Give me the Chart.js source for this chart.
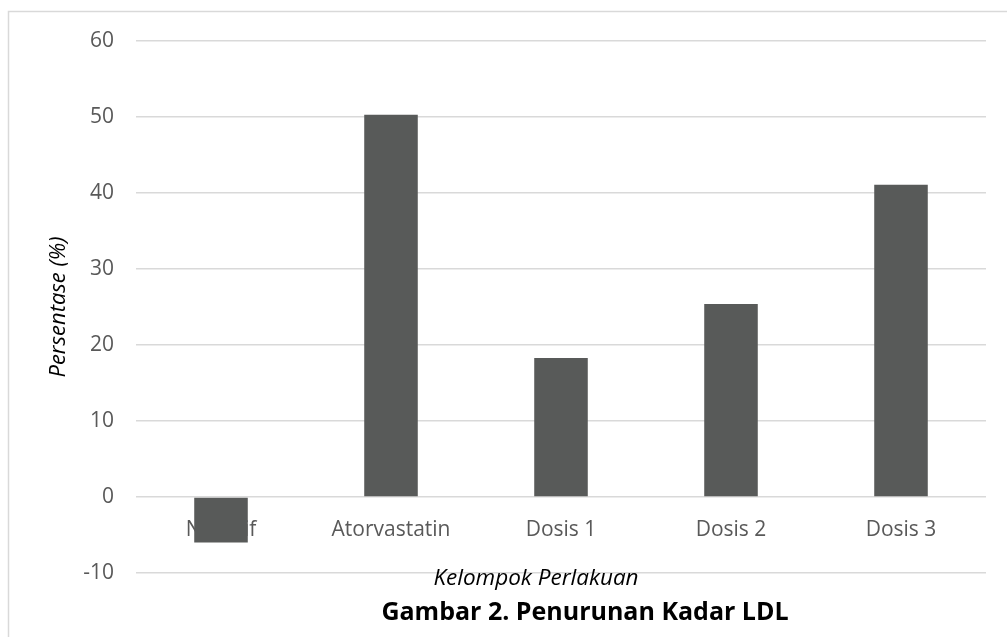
<!DOCTYPE html>
<html>
<head>
<meta charset="utf-8">
<script src="https://cdn.jsdelivr.net/npm/chart.js@4/dist/chart.umd.min.js"></script>
<style>
  html, body { margin: 0; padding: 0; background: #fff; }
  #wrap { position: relative; width: 1007px; height: 637px; }
</style>
</head>
<body>
<div id="wrap"><canvas id="myChart"></canvas></div>
<script>
// Data
const categories = ['Negatif', 'Atorvastatin', 'Dosis 1', 'Dosis 2', 'Dosis 3'];
const penurunan = [-6.0, 50.3, 18.3, 25.4, 41.1];
const yMin = -10, yMax = 60, yStep = 10;

const yTitle = 'Persentase (%)';
const xTitle = 'Kelompok Perlakuan';
const figTitle = 'Gambar 2. Penurunan Kadar LDL';

const FONT = "'Open Sans', sans-serif";

// Frame round the chart plus the two captions under it
const decor = {
    id: 'decor',
    beforeDraw(chart) {
        const ctx = chart.ctx;
        ctx.save();
        ctx.strokeStyle = '#d9d9d9';
        ctx.lineWidth = 1.5;
        ctx.beginPath();
        ctx.moveTo(8.5, chart.height);
        ctx.lineTo(8.5, 11.5);
        ctx.lineTo(chart.width, 11.5);
        ctx.stroke();
        ctx.restore();
    },
    afterDraw(chart) {
        const ctx = chart.ctx;
        const a = chart.chartArea;
        const mid = (a.left + a.right) / 2;
        ctx.save();
        ctx.textAlign = 'center';
        ctx.textBaseline = 'alphabetic';
        ctx.fillStyle = '#000';
        ctx.font = "italic 22.5px " + FONT;
        ctx.fillText(xTitle, mid - 25, a.bottom + 12);
        ctx.font = "bold 25px " + FONT;
        ctx.fillText(figTitle, mid + 24, a.bottom + 47);
        ctx.restore();
    }
};

const ctx = document.getElementById('myChart').getContext('2d');
new Chart(ctx, {
    type: 'bar',
    data: {
        labels: categories,
        datasets: [{
            data: penurunan,
            backgroundColor: '#585a59',
            borderWidth: 0,
            categoryPercentage: 1,
            barPercentage: 0.315
        }]
    },
    options: {
        responsive: true,
        maintainAspectRatio: false,
        animation: false,
        layout: {
            padding: { left: 0, top: 41, right: 21, bottom: 64 }
        },
        plugins: {
            legend: { display: false },
            tooltip: { enabled: false }
        },
        scales: {
            x: {
                position: { y: 0 },
                grid: { display: false },
                border: { display: false },
                ticks: {
                    color: '#595959',
                    font: { family: FONT, size: 21 },
                    padding: 12,
                    maxRotation: 0
                }
            },
            y: {
                min: yMin,
                max: yMax,
                afterFit(scale) { scale.width = 136; },
                grid: { color: '#d9d9d9', lineWidth: 1.5, drawTicks: false },
                border: { display: false },
                ticks: {
                    stepSize: yStep,
                    color: '#595959',
                    font: { family: FONT, size: 21 },
                    padding: 22
                },
                title: {
                    display: true,
                    text: yTitle,
                    color: '#000',
                    font: { family: FONT, size: 22, style: 'italic' },
                    padding: { top: 46, bottom: 0 }
                }
            }
        }
    },
    plugins: [decor]
});
</script>
</body>
</html>
